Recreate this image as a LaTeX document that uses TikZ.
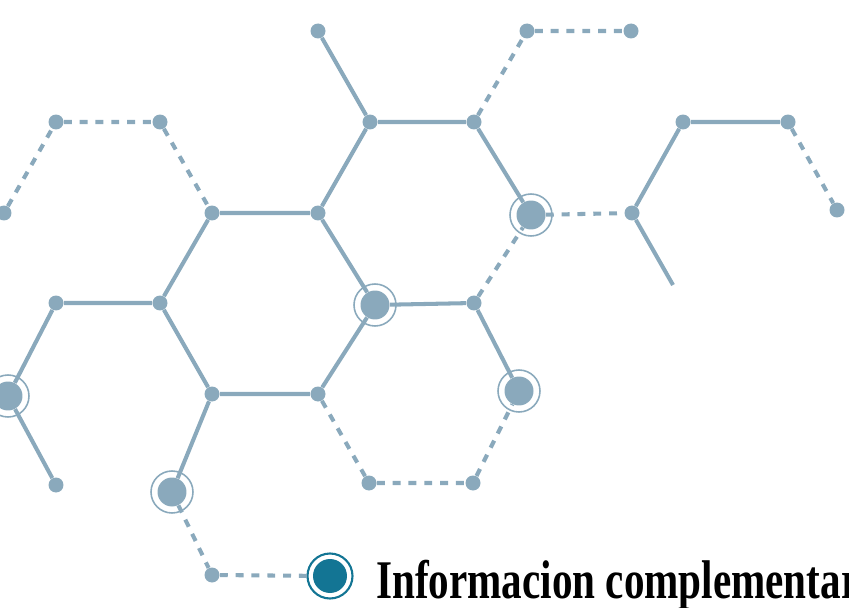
\documentclass[tikz,border=0pt]{standalone}
\usepackage{fontspec}
\newfontfamily\titlefont{Liberation Serif}
\definecolor{hexblue}{HTML}{8AA9BC}
\definecolor{hexteal}{HTML}{137594}

\begin{document}
\begin{tikzpicture}[x=0.02cm,y=-0.02cm,
  dot/.style={circle,fill=hexblue,inner sep=0pt,minimum size=0.3cm},
  hub/.style={circle,fill=hexblue,inner sep=0pt,minimum size=0.58cm},
  bond/.style={hexblue,line width=2.3pt},
  dbond/.style={bond,dash pattern=on 4.5pt off 4.5pt},
  ring/.style={hexblue,line width=0.9pt}]
\clip (0,0) rectangle (849,608);
% lattice points, row by row
\node[dot] (a1) at (318,31) {};
\node[dot] (a2) at (527,31) {};
\node[dot] (a3) at (631,31) {};
\node[dot] (b1) at (56,122) {};
\node[dot] (b2) at (160,122) {};
\node[dot] (b3) at (370,122) {};
\node[dot] (b4) at (474,122) {};
\node[dot] (b5) at (683,122) {};
\node[dot] (b6) at (788,122) {};
\node[dot] (c1) at (4,213) {};
\node[dot] (c2) at (212,213) {};
\node[dot] (c3) at (318,213) {};
\node[hub] (c4) at (531,215) {};
\node[dot] (c5) at (632,213) {};
\node[dot] (c6) at (837,210) {};
\node[dot] (d1) at (56,303) {};
\node[dot] (d2) at (160,303) {};
\node[hub] (d3) at (375,305) {};
\node[dot] (d4) at (474,303) {};
\node[hub] (e1) at (8,396) {};
\node[dot] (e2) at (212,394) {};
\node[dot] (e3) at (318,394) {};
\node[hub] (e4) at (519,391) {};
\node[dot] (f1) at (56,485) {};
\node[hub] (f2) at (172,492) {};
\node[dot] (f3) at (369,483) {};
\node[dot] (f4) at (473,483) {};
\node[dot] (g1) at (212,575) {};
\node[circle,fill=hexteal,inner sep=0pt,minimum size=0.68cm] (g2) at (330,576) {};
\coordinate (tail) at (673,285);
% rings round the large points
\foreach \n in {c4,d3,e1,e4,f2}
  \draw[ring] (\n) circle (0.42cm);
\draw[hexteal,line width=1.2pt] (g2) circle (0.45cm);
% solid bonds
\draw[bond] (a1) -- (b3) -- (b4) -- (c4);
\draw[bond] (b3) -- (c3) -- (c2) -- (d2) -- (d1) -- (e1) -- (f1);
\draw[bond] (c3) -- (d3) -- (d4) -- (e4);
\draw[bond] (d3) -- (e3) -- (e2) -- (d2);
\draw[bond] (e2) -- (f2);
\draw[bond] (b6) -- (b5) -- (c5) -- (tail);
% dashed bonds
\draw[dbond] (b4) -- (a2) -- (a3);
\draw[dbond] (c1) -- (b1) -- (b2) -- (c2);
\draw[dbond] (d4) -- (c4) -- (c5);
\draw[dbond] (b6) -- (c6);
\draw[dbond] (e3) -- (f3) -- (f4) -- (e4);
\draw[dbond] (f2) -- (g1) -- (g2);
% heading
\node[anchor=base west,xscale=0.755,inner sep=0pt,
  font=\titlefont\bfseries\fontsize{31}{31}\selectfont] (title) at (376,598)
  {Informacion complementar};
\end{tikzpicture}
\end{document}
